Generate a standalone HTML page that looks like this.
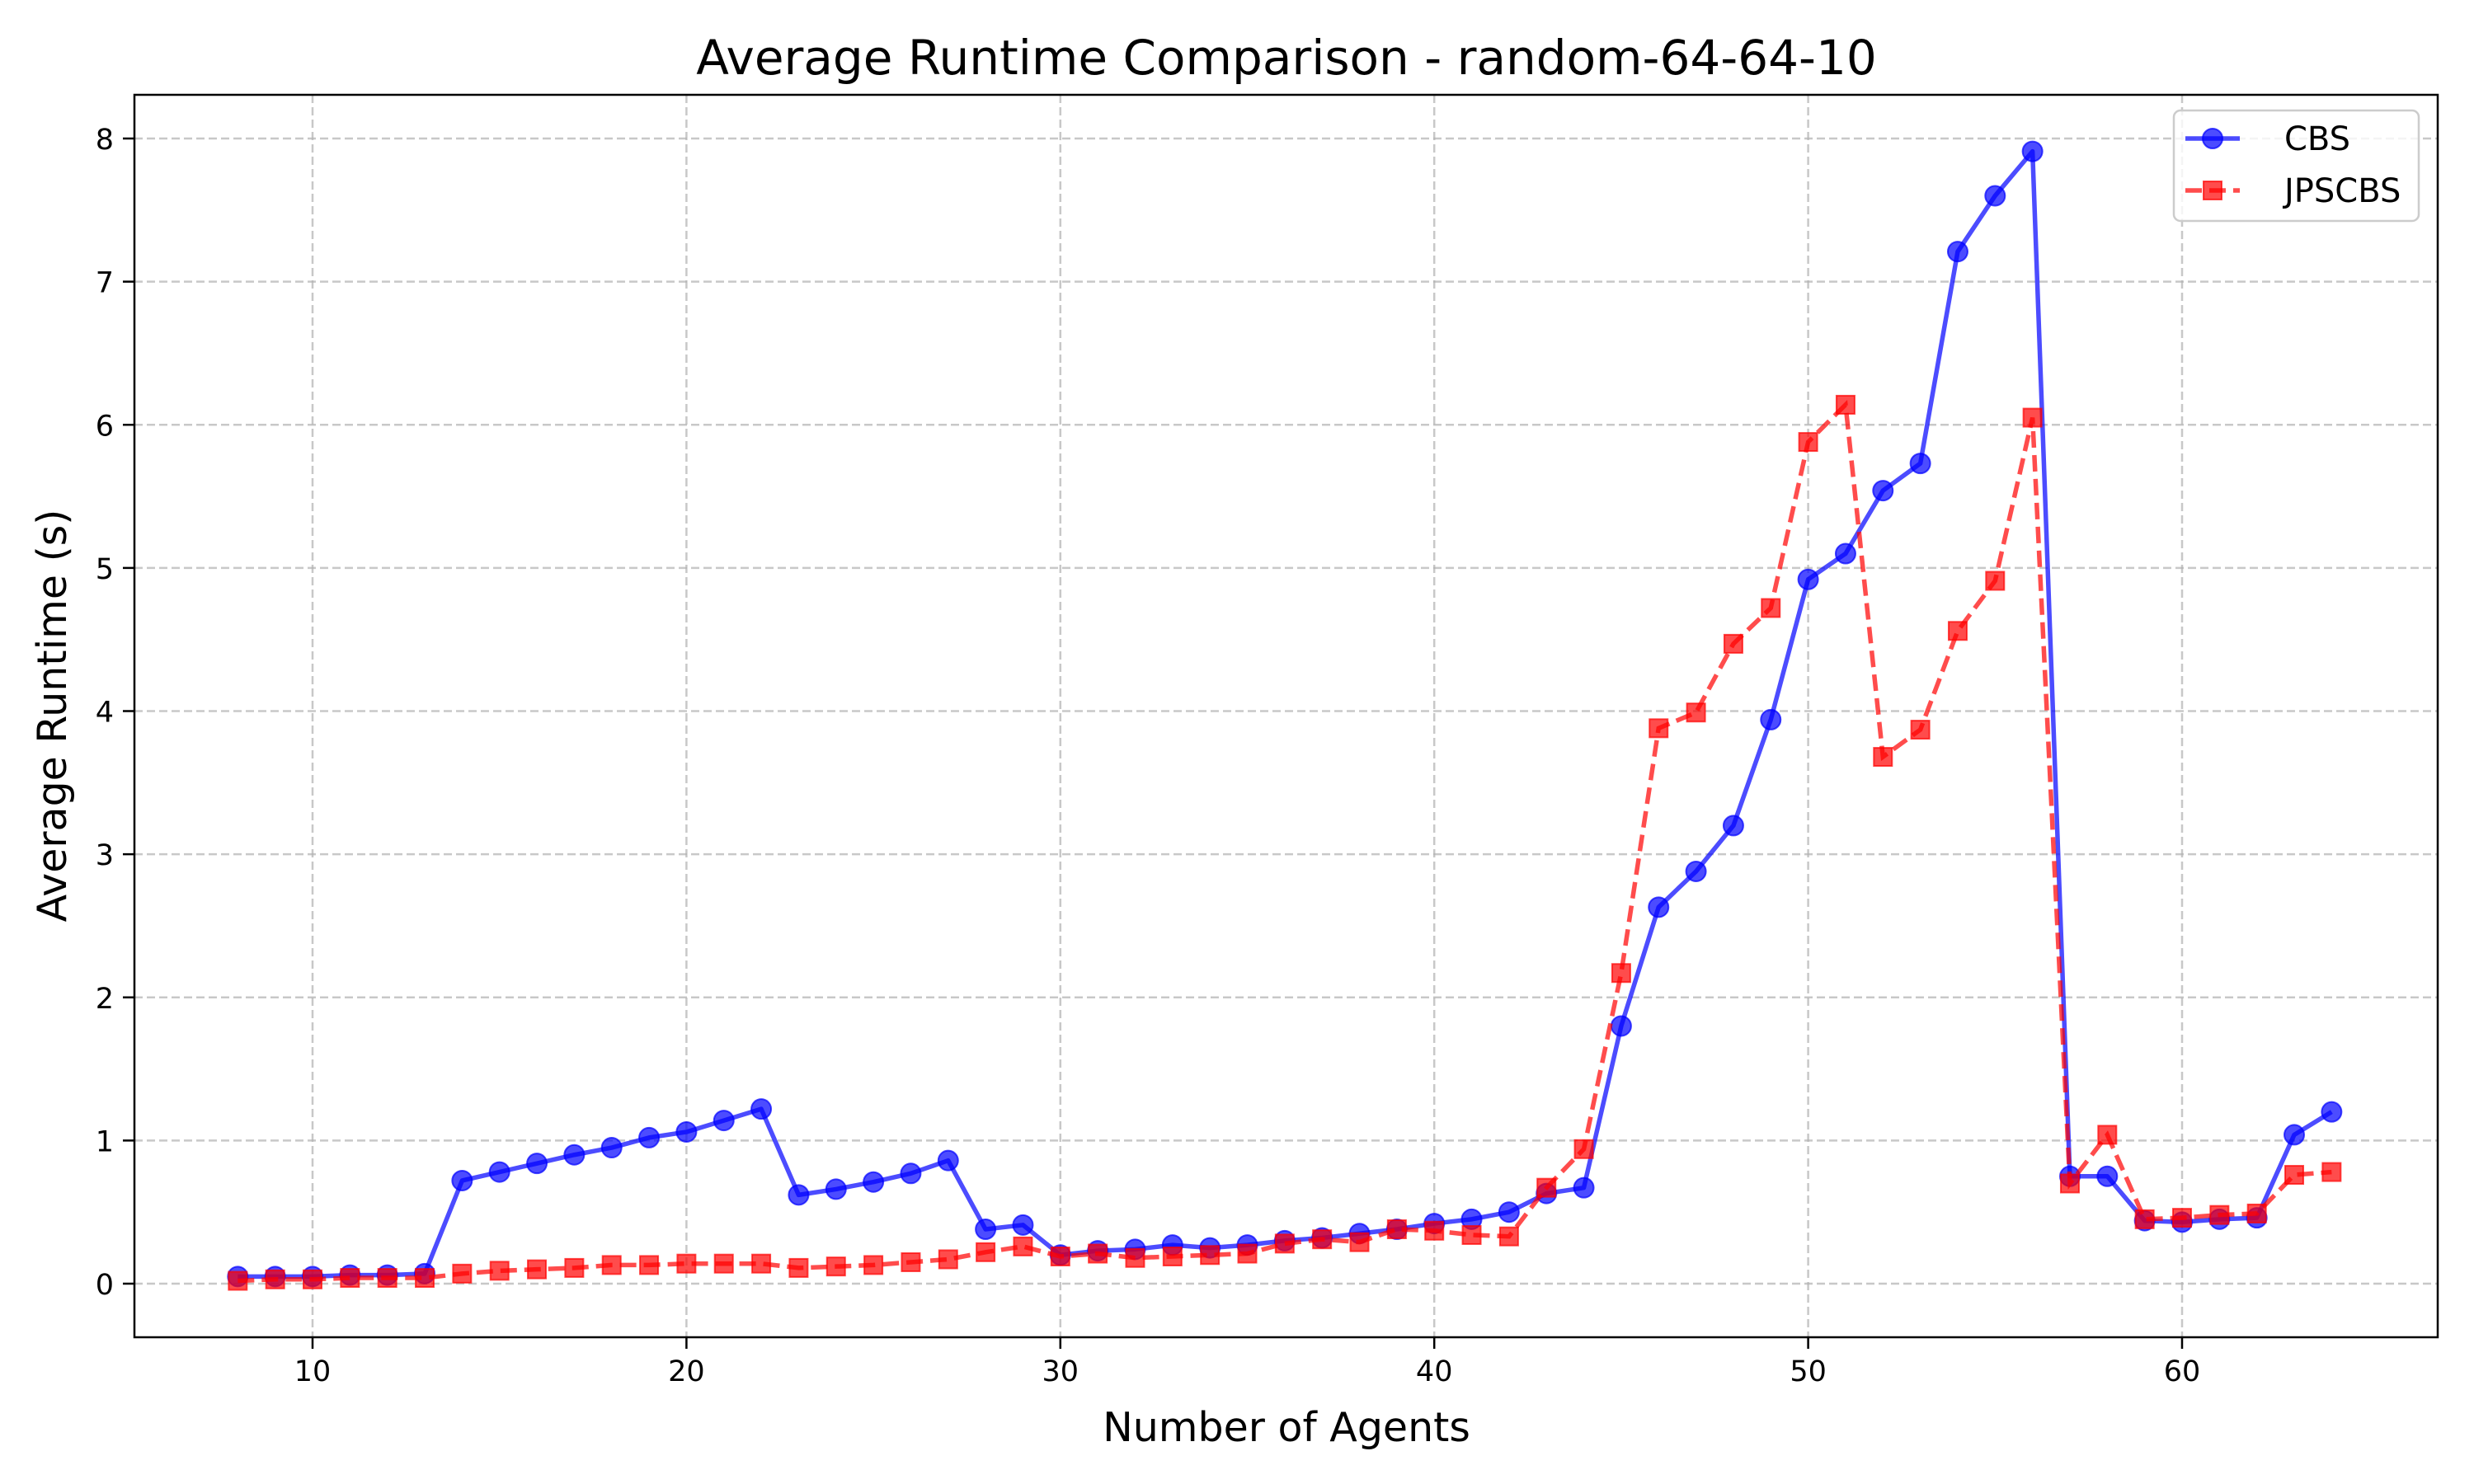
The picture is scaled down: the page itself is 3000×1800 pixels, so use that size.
<!DOCTYPE html>
<html><head><meta charset="utf-8"><style>
html,body{margin:0;padding:0;background:#fff;}
svg{display:block;font-family:"DejaVu Sans","Liberation Sans",sans-serif;}
</style></head><body>
<svg id="chart" width="3000" height="1800" viewBox="0 0 3000 1800" xmlns="http://www.w3.org/2000/svg">
<rect width="3000" height="1800" fill="#fff"/>
<g id="grid"></g>
<g id="series"></g>
<rect x="163" y="115" width="2793" height="1507" fill="none" stroke="#000" stroke-width="2.5"/>
<g id="ticks"></g>
<text x="1560" y="90" text-anchor="middle" font-size="58">Average Runtime Comparison - random-64-64-10</text>
<text x="1560" y="1748" text-anchor="middle" font-size="49">Number of Agents</text>
<text transform="translate(80,868) rotate(-90)" text-anchor="middle" font-size="49">Average Runtime (s)</text>
<g>
<rect x="2636" y="134" width="297" height="134" rx="8" fill="#fff" fill-opacity="0.8" stroke="#ccc" stroke-width="2.5"/>
<g>
<line x1="2650" y1="168" x2="2716" y2="168" stroke="#0000ff" stroke-opacity="0.7" stroke-width="5.5"/>
<circle cx="2683" cy="168" r="12" fill="#0000ff" fill-opacity="0.7" stroke="#0000ff" stroke-opacity="0.7" stroke-width="2"/>
<text x="2770" y="182" font-size="40">CBS</text></g>
<g>
<line x1="2650" y1="231" x2="2716" y2="231" stroke="#ff0000" stroke-opacity="0.7" stroke-width="5.5" stroke-dasharray="20,9"/>
<rect x="2672" y="220" width="22" height="22" fill="#ff0000" fill-opacity="0.7" stroke="#ff0000" stroke-opacity="0.7" stroke-width="2"/>
<text x="2770" y="245" font-size="40">JPSCBS</text></g>
</g>
</svg>
<script>
const agents = [8,9,10,11,12,13,14,15,16,17,18,19,20,21,22,23,24,25,26,27,28,29,30,31,32,33,34,35,36,37,38,39,40,41,42,43,44,45,46,47,48,49,50,51,52,53,54,55,56,57,58,59,60,61,62,63,64];
const cbsValues = [0.05,0.05,0.05,0.06,0.06,0.07,0.72,0.78,0.84,0.9,0.95,1.02,1.06,1.14,1.22,0.62,0.66,0.71,0.77,0.86,0.38,0.41,0.2,0.23,0.24,0.27,0.25,0.27,0.3,0.32,0.35,0.38,0.42,0.45,0.5,0.63,0.67,1.8,2.63,2.88,3.2,3.94,4.92,5.1,5.54,5.73,7.21,7.6,7.91,0.75,0.75,0.44,0.43,0.45,0.46,1.04,1.2];
const jpscbsValues = [0.02,0.03,0.03,0.04,0.04,0.04,0.07,0.09,0.1,0.11,0.13,0.13,0.14,0.14,0.14,0.11,0.12,0.13,0.15,0.17,0.22,0.26,0.19,0.21,0.18,0.19,0.2,0.21,0.28,0.31,0.29,0.38,0.37,0.34,0.33,0.67,0.94,2.17,3.88,3.99,4.47,4.72,5.88,6.14,3.68,3.87,4.56,4.91,6.05,0.7,1.04,0.45,0.46,0.48,0.49,0.76,0.78];
const xTicks = [10,20,30,40,50,60];
const yTicks = [0,1,2,3,4,5,6,7,8];

const NS = "http://www.w3.org/2000/svg";
const X0 = 379, XS = (2646-379)/50;
const Y0 = 1557, YS = (1557-168)/8;
const L=163, R=2956, T=115, B=1622;
function xs(v){ return X0 + (v-10)*XS; }
function ys(v){ return Y0 - v*YS; }
function mk(tag, attrs, parent){ const e=document.createElementNS(NS,tag); for(const k in attrs) e.setAttribute(k,attrs[k]); parent.appendChild(e); return e; }

const grid=document.getElementById('grid'), ticks=document.getElementById('ticks'), series=document.getElementById('series');
xTicks.forEach(t=>{
  const g=mk('line',{x1:xs(t),x2:xs(t),y1:T,y2:B,stroke:'#b0b0b0','stroke-opacity':0.7,'stroke-width':2.5,'stroke-dasharray':'10,5'},grid);
  
  
  mk('line',{x1:xs(t),x2:xs(t),y1:B,y2:B+14,stroke:'#000','stroke-width':2.5},ticks);
  const tx=mk('text',{x:xs(t),y:B+53,'text-anchor':'middle','font-size':35},ticks);
  tx.textContent=t;
  
  
});
yTicks.forEach(t=>{
  const g=mk('line',{x1:L,x2:R,y1:ys(t),y2:ys(t),stroke:'#b0b0b0','stroke-opacity':0.7,'stroke-width':2.5,'stroke-dasharray':'10,5'},grid);
  
  
  mk('line',{x1:L-14,x2:L,y1:ys(t),y2:ys(t),stroke:'#000','stroke-width':2.5},ticks);
  const tx=mk('text',{x:138,y:ys(t)+13,'text-anchor':'end','font-size':35},ticks);
  tx.textContent=t;
  
  
});
function pts(vals){ return vals.map((v,i)=>xs(agents[i])+','+ys(v)).join(' '); }
const cbsLine=mk('polyline',{points:pts(cbsValues),fill:'none',stroke:'#0000ff','stroke-opacity':0.7,'stroke-width':5.5,'stroke-linejoin':'round'},series);


cbsValues.forEach((v,i)=>{
  const c=mk('circle',{cx:xs(agents[i]),cy:ys(v),r:12,fill:'#0000ff','fill-opacity':0.7,stroke:'#0000ff','stroke-opacity':0.7,'stroke-width':2},series);
  
  
});
const jLine=mk('polyline',{points:pts(jpscbsValues),fill:'none',stroke:'#ff0000','stroke-opacity':0.7,'stroke-width':5.5,'stroke-dasharray':'20,9'},series);


jpscbsValues.forEach((v,i)=>{
  const r=mk('rect',{x:xs(agents[i])-11,y:ys(v)-11,width:22,height:22,fill:'#ff0000','fill-opacity':0.7,stroke:'#ff0000','stroke-opacity':0.7,'stroke-width':2},series);
  
  
});
</script>
</body></html>
